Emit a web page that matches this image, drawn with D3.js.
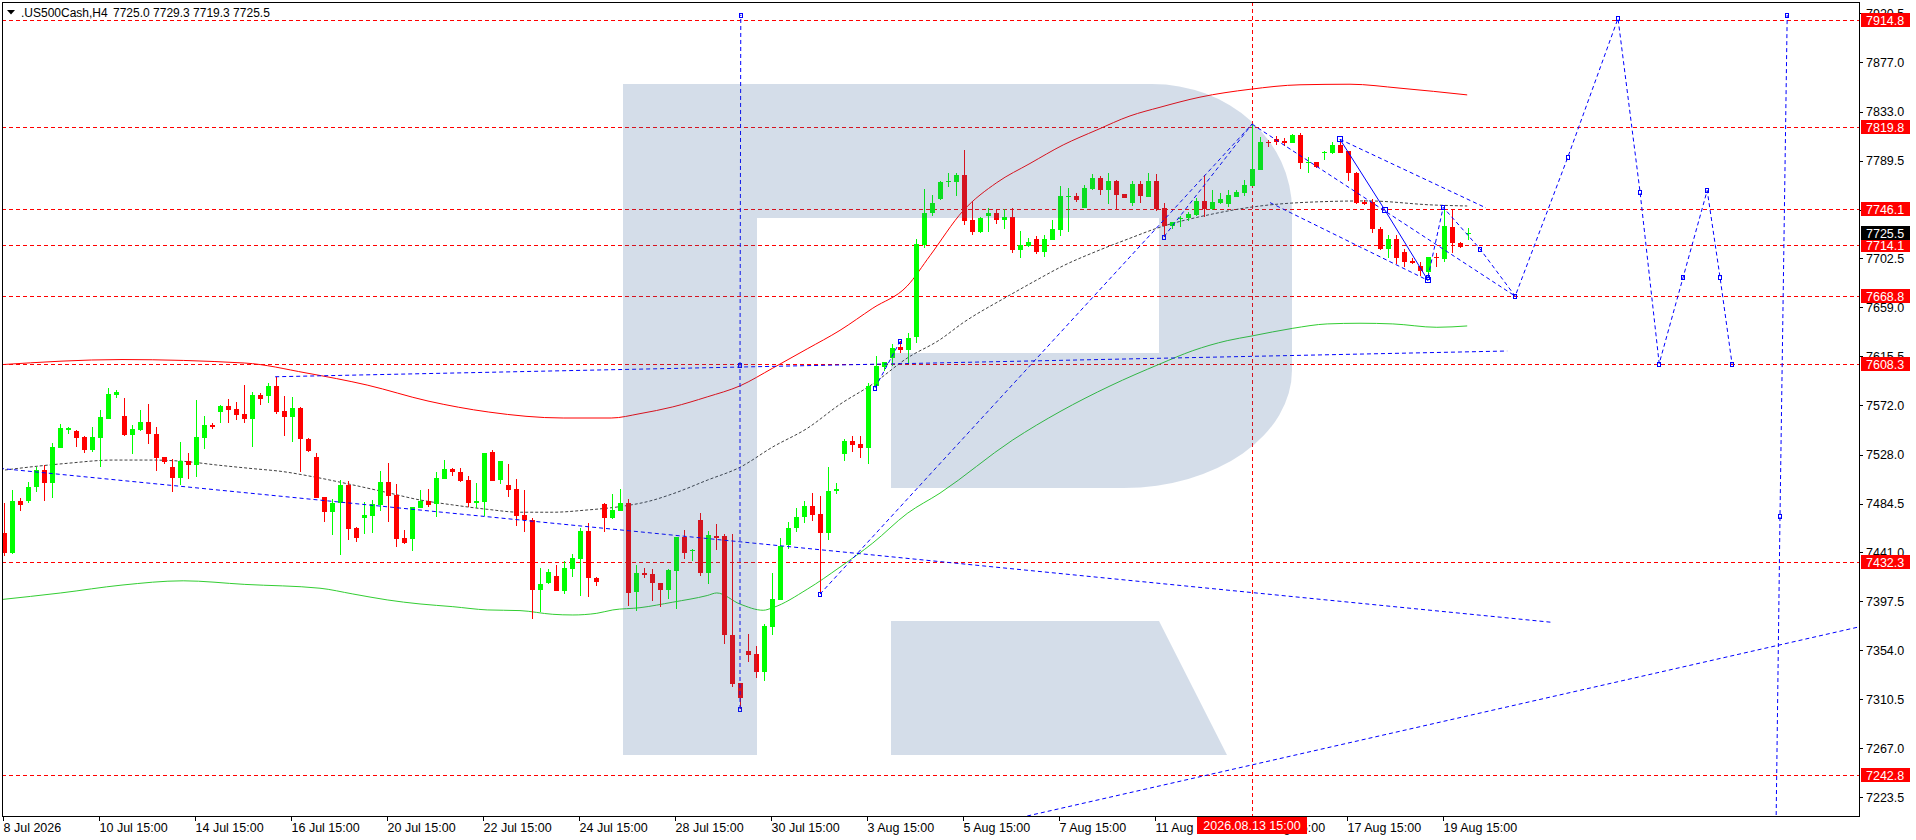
<!DOCTYPE html>
<meta charset="utf-8">
<style>
  body { margin: 0; background: #fff; }
  svg { font: 12.5px "Liberation Sans", Arial, sans-serif; display: block; }
  .lvl { fill: none; stroke: #ff0000; stroke-dasharray: 4,3; shape-rendering: crispEdges; }
  .trend { fill: none; stroke: #0000ff; stroke-dasharray: 4,3; }
  .band { fill: none; stroke-width: 1px; }
  .mark { fill: none; stroke: #0000ff; stroke-width: 1px; shape-rendering: crispEdges; }
  .axis-text { fill: #000; }
  .title { font-size: 12px; }
</style>
<body>
<div id="graph-container"></div>
<script src="https://d3js.org/d3.v7.min.js"></script>
<script>
// H4 candles, 8 Jul - 19 Aug 2026
var opens = [7458.0,7440.8,7486.8,7487.1,7498.9,7514.4,7503.1,7534.2,7549.9,7549.0,
  7543.7,7532.1,7543.1,7559.7,7581.4,7562.4,7545.5,7549.9,7557.0,7546.4,
  7525.6,7516.7,7507.5,7522.4,7518.8,7543.1,7554.4,7566.2,7571.3,7568.6,
  7564.2,7560.0,7581.1,7580.5,7589.1,7566.5,7561.8,7569.5,7541.6,7525.6,
  7490.0,7477.4,7484.8,7501.1,7462.5,7472.0,7473.8,7483.3,7503.7,7492.2,
  7453.6,7453.3,7480.9,7486.8,7483.9,7506.7,7515.3,7512.6,7505.5,7485.4,
  7486.2,7530.4,7505.5,7501.1,7497.2,7474.1,7469.9,7407.7,7413.6,7420.1,
  7407.1,7426.6,7435.0,7460.2,7418.4,7484.2,7472.0,7478.2,7485.4,7406.2,
  7423.1,7422.1,7413.9,7407.3,7424.1,7454.4,7442.2,7470.1,7422.4,7455.7,
  7455.4,7367.8,7325.1,7353.4,7350.7,7335.0,7374.4,7399.1,7447.8,7463.0,
  7472.5,7482.3,7475.1,7458.3,7495.5,7529.0,7539.9,7537.6,7534.3,7589.2,
  7605.7,7613.9,7623.8,7621.5,7633.0,7714.2,7743.2,7755.1,7770.1,7770.9,
  7776.8,7736.8,7726.4,7740.3,7742.7,7736.8,7739.1,7710.1,7714.0,7719.6,
  7708.6,7719.0,7727.9,7757.2,7758.1,7747.7,7764.3,7773.8,7763.4,7771.7,
  7759.9,7752.2,7768.8,7757.5,7771.5,7747.1,7731.7,7737.4,7738.1,7741.2,
  7754.0,7746.2,7751.6,7751.0,7757.5,7760.5,7767.0,7781.2,7806.4,7808.8,
  7807.0,7805.5,7812.4,7787.2,7788.0,7796.1,7796.1,7803.5,7798.1,7778.3,
  7753.1,7752.5,7728.7,7711.0,7719.9,7708.6,7700.6,7696.1,7690.8,7704.1,
  7702.1,7730.8,7716.6,7725.0];
var highs = [7484.7,7496.6,7489.7,7503.7,7517.3,7518.8,7538.1,7555.3,7552.9,7549.9,
  7544.9,7552.3,7567.7,7587.0,7585.5,7578.4,7554.4,7567.7,7573.1,7552.9,
  7525.6,7524.1,7539.6,7529.2,7576.6,7562.7,7556.4,7572.5,7577.5,7574.8,
  7590.0,7583.4,7582.5,7592.0,7596.8,7580.2,7579.0,7570.4,7542.5,7529.2,
  7490.6,7488.3,7505.5,7504.6,7463.4,7485.7,7487.7,7513.5,7520.9,7502.0,
  7461.0,7481.2,7496.6,7497.5,7512.3,7523.3,7516.2,7516.2,7509.1,7503.1,
  7529.8,7532.2,7522.4,7519.7,7506.4,7496.6,7472.0,7427.5,7426.3,7429.9,
  7433.5,7439.7,7463.1,7467.0,7419.5,7485.4,7493.1,7497.5,7488.3,7429.9,
  7427.5,7426.4,7413.9,7426.4,7454.4,7461.0,7444.5,7475.7,7460.3,7466.5,
  7457.7,7457.0,7325.1,7368.8,7358.0,7377.7,7422.4,7453.7,7468.2,7480.7,
  7486.6,7493.8,7491.5,7516.9,7502.7,7541.5,7544.8,7544.8,7591.5,7615.5,
  7610.6,7626.4,7628.7,7636.3,7719.8,7764.2,7758.6,7771.5,7778.9,7778.9,
  7799.0,7753.9,7739.1,7747.1,7746.2,7746.2,7747.1,7727.0,7720.5,7722.5,
  7723.4,7736.8,7767.0,7764.9,7760.5,7767.9,7777.7,7775.9,7778.9,7772.3,
  7759.9,7771.7,7771.5,7778.9,7777.4,7751.6,7735.3,7740.3,7744.2,7756.0,
  7776.8,7763.4,7760.5,7763.4,7763.4,7772.3,7821.0,7810.9,7807.9,7811.5,
  7809.4,7813.3,7814.4,7792.5,7788.6,7798.4,7805.8,7807.9,7798.1,7779.2,
  7754.5,7755.1,7730.2,7723.4,7723.4,7711.0,7702.7,7699.7,7704.1,7707.7,
  7746.2,7746.2,7717.5,7729.3];
var lows = [7438.0,7439.6,7478.2,7485.3,7495.1,7487.1,7489.7,7533.6,7546.1,7535.1,
  7529.8,7530.7,7517.3,7559.7,7578.4,7544.6,7528.6,7549.0,7537.5,7513.8,
  7519.7,7495.1,7501.0,7506.6,7507.8,7533.0,7551.1,7556.4,7556.4,7558.8,
  7555.8,7535.1,7572.2,7574.2,7563.9,7544.6,7539.6,7512.9,7530.7,7489.7,
  7468.4,7456.6,7438.8,7452.1,7450.7,7457.5,7458.7,7478.2,7468.5,7446.2,
  7448.6,7442.7,7480.3,7481.8,7472.9,7506.7,7509.1,7503.5,7481.8,7480.9,
  7473.5,7504.9,7501.7,7490.7,7464.9,7459.6,7381.6,7388.4,7413.0,7407.1,
  7403.8,7419.5,7402.3,7401.7,7411.5,7459.6,7470.8,7478.2,7393.7,7389.3,
  7418.1,7397.4,7392.8,7399.4,7390.9,7435.3,7433.0,7419.8,7413.2,7443.5,
  7359.9,7321.1,7302.1,7343.5,7329.4,7327.1,7367.8,7398.4,7444.5,7459.3,
  7467.5,7469.2,7404.0,7452.1,7492.8,7522.8,7530.0,7525.1,7520.1,7585.9,
  7602.4,7607.3,7618.8,7609.9,7627.7,7711.6,7740.5,7754.5,7765.8,7758.1,
  7732.3,7723.4,7724.9,7726.4,7733.2,7728.5,7707.1,7703.3,7713.0,7706.5,
  7704.2,7719.0,7722.5,7726.4,7753.1,7747.1,7763.4,7759.0,7751.0,7746.5,
  7756.6,7749.5,7752.2,7756.9,7745.1,7721.9,7728.5,7730.8,7736.2,7740.3,
  7739.1,7745.6,7750.7,7748.0,7756.9,7758.4,7767.0,7781.2,7801.4,7803.5,
  7802.9,7805.0,7782.1,7778.9,7782.7,7790.1,7795.5,7796.7,7771.7,7751.0,
  7749.8,7725.5,7710.1,7702.7,7697.6,7694.7,7697.3,7687.2,7686.3,7694.7,
  7699.7,7707.1,7711.6,7719.3];
var closes = [7440.2,7486.8,7483.5,7499.2,7514.4,7503.1,7534.5,7551.4,7551.7,7543.1,
  7532.1,7543.7,7561.5,7582.0,7583.7,7545.5,7550.5,7557.0,7546.1,7525.3,
  7521.8,7507.5,7522.4,7518.8,7543.7,7554.4,7552.9,7571.3,7568.0,7563.6,
  7560.0,7581.1,7577.8,7589.1,7565.9,7561.8,7569.5,7541.6,7531.5,7489.7,
  7477.3,7485.4,7501.1,7461.9,7454.2,7474.4,7484.2,7503.7,7491.6,7453.3,
  7449.8,7481.2,7486.8,7483.3,7507.0,7515.0,7512.9,7504.9,7485.4,7486.8,
  7529.8,7504.9,7522.4,7496.6,7473.8,7469.9,7407.7,7413.0,7423.7,7407.1,
  7426.9,7436.4,7460.2,7418.1,7415.1,7472.0,7478.8,7485.4,7405.3,7423.1,
  7421.0,7413.9,7407.3,7425.7,7454.4,7440.2,7442.9,7422.4,7456.7,7454.0,
  7367.2,7324.4,7311.3,7350.1,7335.0,7375.4,7399.4,7447.1,7462.6,7472.5,
  7482.3,7474.7,7458.3,7495.5,7497.5,7539.9,7536.6,7534.3,7589.2,7606.7,
  7610.3,7623.1,7621.5,7632.0,7715.2,7743.2,7752.1,7770.9,7771.7,7776.8,
  7736.2,7726.4,7738.8,7742.7,7736.8,7739.7,7710.1,7714.5,7716.9,7708.6,
  7719.6,7728.7,7758.1,7758.1,7754.5,7764.9,7773.8,7763.4,7771.7,7759.0,
  7756.6,7768.8,7758.1,7771.5,7746.2,7731.7,7734.7,7738.8,7742.1,7753.7,
  7746.5,7752.5,7755.4,7759.0,7762.0,7767.9,7781.8,7806.4,7805.0,7806.4,
  7805.5,7812.4,7787.2,7788.6,7783.6,7797.5,7803.5,7796.7,7778.3,7752.2,
  7751.0,7728.5,7711.0,7719.9,7703.3,7699.7,7698.2,7691.7,7704.1,7702.7,
  7731.4,7716.6,7713.0,7725.5];

// bands: [bar index, price]
var redBand = [[-0.5,7608.0],[14.75,7612.6],[30.1,7609.5],[37.75,7600.7],[45.4,7589.9],[53,7575.7],
  [60.6,7565.9],[69.9,7560.6],[75.9,7560.6],[79.5,7564.5],[83.6,7570.5],[87.9,7579.4],[92,7589.2],
  [96.1,7605.0],[100.4,7622.1],[104.5,7638.6],[108.6,7658.3],[112.9,7678.0],[115.75,7705.0],
  [119.9,7745.0],[124.1,7770.0],[128.25,7787.0],[132.4,7803.5],[136.6,7816.8],[140.75,7829.3],
  [144.5,7837.0],[149.5,7846.0],[155.75,7853.0],[162,7857.0],[168.25,7857.5],[174.5,7854.0],[182.9,7848.0]];
var midLine = [[-0.5,7513.8],[3.6,7517.3],[7.9,7520.3],[13.6,7523.2],[18.25,7523.2],[22.9,7521.8],
  [26.6,7518.8],[30.75,7515.8],[34.9,7512.9],[38.6,7508.4],[43.6,7501.1],[47.9,7494.3],[52,7487.7],
  [56.1,7483.3],[60.4,7479.4],[64.5,7476.8],[68.6,7476.8],[72.9,7478.8],[77,7481.8],[80.75,7486.8],
  [83.6,7493.2],[87.9,7505.3],[92,7516.8],[96.1,7534.9],[100.4,7551.4],[104.5,7572.8],[108.6,7590.9],
  [112.9,7613.9],[117,7630.3],[119.9,7645.4],[125.4,7668.6],[129.1,7683.4],[132.4,7696.0],[136.6,7709.0],
  [140.75,7720.5],[144.1,7729.4],[151.1,7742.1],[155.75,7748.0],[162,7752.2],[170.4,7753.7],[178.6,7750.1],[182.9,7749.2]];
var greenBand = [[-0.5,7399.0],[7.1,7405.0],[14.75,7412.0],[22.4,7415.8],[30.1,7412.6],[39.5,7409.2],
  [43.6,7404.1],[47.9,7398.8],[52,7395.2],[56.1,7392.8],[60.4,7389.9],[64.5,7389.3],[68.6,7386.0],
  [71.1,7385.4],[74.1,7386.9],[76.1,7389.9],[79.5,7391.9],[83.6,7396.8],[87.9,7402.7],[89.1,7405.0],
  [92,7395.1],[94.9,7389.6],[96.1,7391.9],[100.4,7408.3],[104.5,7428.0],[108.6,7449.4],[112.9,7475.7],
  [117,7493.8],[126.1,7541.1],[132,7566.3],[138.25,7589.1],[144.5,7608.7],[148.6,7620.5],[152.9,7629.4],
  [156,7633.6],[161.1,7640.4],[165.4,7644.3],[169.5,7644.9],[173.6,7644.3],[179.1,7641.3],[182.9,7642.5]];

// drawn lines: [bar index, price]
var trendLines = [
  [[33.9,7597.3],[187.9,7620.2]],
  [[-0.5,7515.8],[193.6,7378.8]],
  [[127.9,7206.6],[232,7375.0]],
  [[102,7404.0],[156,7822.0]],
  [[145,7721.9],[156,7822.0]],
  [[167,7808.5],[185.25,7747.5]],
  [[156,7822.0],[188.9,7669.0]],
  [[158.25,7752.2],[178,7683.0]]
];
var pathLines = [
  [[108.9,7587.6],[112,7628.7]],
  [[92,7301.8],[92,7608.0],[92.1,7919.3]],
  [[178,7686],[179.9,7748],[184.5,7711],[188.9,7669],[195.5,7793],[201.75,7916],[204.5,7762],
   [206.9,7609],[209.9,7686],[212.9,7763],[214.5,7686],[216,7609]],
  [[221.5,7195],[222,7473],[222.9,7919]]
];
var solidLine = [[167,7808.5],[172.6,7745.7],[178,7683.0]];

var levels = [7914.8, 7819.8, 7746.1, 7714.1, 7668.8, 7608.3, 7432.3, 7242.8];
var lastPrice = 7725.5;
var priceTicks = ["7920.5","7877.0","7833.0","7789.5","7746.0","7702.5","7659.0","7615.5","7572.0",
  "7528.0","7484.5","7441.0","7397.5","7354.0","7310.5","7267.0","7223.5"];
var dateTicks = ["8 Jul 2026","10 Jul 15:00","14 Jul 15:00","16 Jul 15:00","20 Jul 15:00","22 Jul 15:00",
  "24 Jul 15:00","28 Jul 15:00","30 Jul 15:00","3 Aug 15:00","5 Aug 15:00","7 Aug 15:00",
  "11 Aug 15:00","13 Aug 15:00","17 Aug 15:00","19 Aug 15:00"];
var crossBar = 156, crossLabel = "2026.08.13 15:00";
var title = ".US500Cash,H4", titleOHLC = "7725.0 7729.3 7719.3 7725.5";

var W = 1916, H = 840;
var m = {l: 2, t: 2, r: 1859, b: 816};   // plot frame

var x = d3.scaleLinear().domain([0, 232]).range([4, 1860]);
var y = d3.scaleLinear().domain([7223.5, 7877.0]).range([797.0, 62.3]);

var svg = d3.select("#graph-container").append("svg")
    .attr("width", W)
    .attr("height", H);

svg.append("clipPath").attr("id", "clip")
  .append("rect")
    .attr("x", m.l).attr("y", m.t)
    .attr("width", m.r - m.l).attr("height", m.b - m.t);

var plot = svg.append("g").attr("clip-path", "url(#clip)");

var line = d3.line().x(function(d) { return x(d[0]); }).y(function(d) { return y(d[1]); });
var smooth = d3.line().curve(d3.curveMonotoneX)
    .x(function(d) { return x(d[0]); }).y(function(d) { return y(d[1]); });

function px(v) { return Math.round(v) + 0.5; }

// level lines
plot.append("g").selectAll("line")
    .data(levels)
    .enter().append("line")
    .attr("class", "lvl")
    .attr("x1", m.l).attr("x2", m.r)
    .attr("y1", function(d) { return px(y(d)); })
    .attr("y2", function(d) { return px(y(d)); });

// crosshair vertical
plot.append("line")
    .attr("class", "lvl")
    .attr("x1", px(x(crossBar))).attr("x2", px(x(crossBar)))
    .attr("y1", m.t).attr("y2", m.b);

// bands
plot.append("path").attr("class", "band").attr("stroke", "#ff0000").attr("d", smooth(redBand));
plot.append("path").attr("class", "band").attr("stroke", "#32cd32").attr("d", smooth(greenBand));
plot.append("path").attr("class", "band").attr("stroke", "#404040")
    .attr("stroke-dasharray", "3,2").attr("d", smooth(midLine));

// candles
var bars = d3.range(opens.length).map(function(i) {
  return {i: i, o: opens[i], h: highs[i], l: lows[i], c: closes[i]};
});
var cg = plot.append("g").attr("shape-rendering", "crispEdges");
cg.selectAll(".wick")
    .data(bars)
    .enter().append("line")
    .attr("class", "wick")
    .attr("x1", function(d) { return px(x(d.i)); })
    .attr("x2", function(d) { return px(x(d.i)); })
    .attr("y1", function(d) { return y(d.h); })
    .attr("y2", function(d) { return y(d.l); })
    .attr("stroke", function(d) { return d.c >= d.o ? "#00ff00" : "#ff0000"; });
cg.selectAll(".body")
    .data(bars)
    .enter().append("rect")
    .attr("class", "body")
    .attr("x", function(d) { return Math.round(x(d.i)) - 2; })
    .attr("width", 5)
    .attr("y", function(d) { return y(Math.max(d.o, d.c)); })
    .attr("height", function(d) { return Math.max(1, Math.abs(y(d.o) - y(d.c))); })
    .attr("fill", function(d) { return d.c >= d.o ? "#00ff00" : "#ff0000"; });

// blue trend lines and forecast paths
plot.append("g").selectAll("path")
    .data(trendLines.concat(pathLines))
    .enter().append("path")
    .attr("class", "trend")
    .attr("d", line);

plot.append("path")
    .attr("fill", "none").attr("stroke", "#0000ff")
    .attr("d", line(solidLine));

// vertex markers
var verts = [];
pathLines.forEach(function(p) { p.forEach(function(d) { verts.push(d); }); });
verts.push(trendLines[3][0], trendLines[4][0]);
plot.append("g").selectAll("rect")
    .data(verts)
    .enter().append("rect")
    .attr("class", "mark")
    .attr("x", function(d) { return Math.round(x(d[0])) - 1.5; })
    .attr("y", function(d) { return Math.round(y(d[1])) - 1.5; })
    .attr("width", 3).attr("height", 4);
plot.append("g").selectAll("rect")
    .data(solidLine)
    .enter().append("rect")
    .attr("class", "mark")
    .attr("x", function(d) { return Math.round(x(d[0])) - 2.5; })
    .attr("y", function(d) { return Math.round(y(d[1])) - 2.5; })
    .attr("width", 5).attr("height", 5);

// watermark logo, semi transparent over the chart
plot.append("path")
    .attr("fill", "#356095")
    .attr("fill-opacity", 0.21)
    .attr("d", "M623,84H1152A140,126 0 0 1 1292,210V370A168,118 0 0 1 1124,488H891V353H1159V218H757V755H623Z" +
               "M891,621H1159L1227,755H891Z");

// frame
svg.append("rect")
    .attr("x", m.l + 0.5).attr("y", m.t + 0.5)
    .attr("width", m.r - m.l).attr("height", m.b - m.t)
    .attr("fill", "none").attr("stroke", "#000")
    .attr("shape-rendering", "crispEdges");

// price axis
var pa = svg.append("g");
pa.selectAll("line")
    .data(priceTicks)
    .enter().append("line")
    .attr("x1", m.r).attr("x2", m.r + 4)
    .attr("y1", function(d) { return px(y(+d)); })
    .attr("y2", function(d) { return px(y(+d)); })
    .attr("stroke", "#000").attr("shape-rendering", "crispEdges");
pa.selectAll("text")
    .data(priceTicks)
    .enter().append("text")
    .attr("class", "axis-text")
    .attr("x", 1866)
    .attr("y", function(d) { return y(+d); })
    .attr("dy", "0.36em")
    .text(String);

// level labels
var lb = svg.append("g").selectAll("g")
    .data(levels.map(function(v) { return {v: v, bg: "#ff0000"}; })
      .concat([{v: lastPrice, bg: "#000000"}]))
    .enter().append("g")
    .attr("transform", function(d) { return "translate(0," + Math.round(y(d.v)) + ")"; });
lb.append("rect")
    .attr("x", 1861).attr("y", -7)
    .attr("width", 49).attr("height", 14)
    .attr("fill", function(d) { return d.bg; });
lb.append("text")
    .attr("x", 1866).attr("dy", "0.36em")
    .attr("fill", "#fff")
    .text(function(d) { return d.v.toFixed(1); });

// date axis
var da = svg.append("g").selectAll("g")
    .data(dateTicks)
    .enter().append("g")
    .attr("transform", function(d, k) { return "translate(" + (Math.round(x(12 * k) - 1.5) + 0.5) + ",0)"; });
da.append("line")
    .attr("y1", m.b).attr("y2", m.b + 5)
    .attr("stroke", "#000").attr("shape-rendering", "crispEdges");
da.append("text")
    .attr("class", "axis-text")
    .attr("x", 0).attr("y", 832)
    .text(String);

var cx = x(crossBar);
svg.append("rect")
    .attr("x", Math.round(cx) - 55).attr("y", 817)
    .attr("width", 110).attr("height", 17)
    .attr("fill", "#ff0000");
svg.append("text")
    .attr("x", cx).attr("y", 830)
    .attr("text-anchor", "middle")
    .attr("fill", "#fff")
    .text(crossLabel);

// title
svg.append("path").attr("d", "M7,10H15L11,14.5Z").attr("fill", "#000");
svg.append("text").attr("class", "title").attr("x", 21).attr("y", 16.5).text(title);
svg.append("text").attr("class", "title").attr("x", 113).attr("y", 16.5).text(titleOHLC);
</script>
</body>
